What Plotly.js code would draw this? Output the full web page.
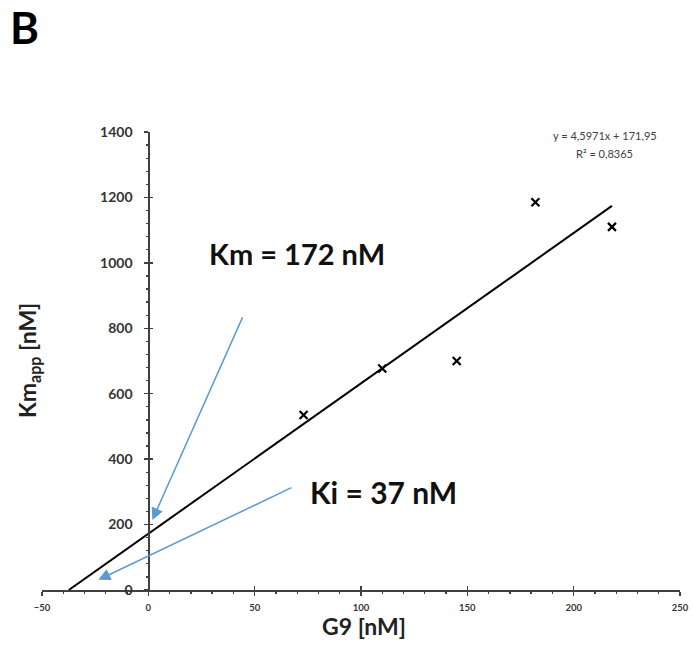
<!DOCTYPE html>
<html>
<head>
<meta charset="utf-8">
<script src="https://cdn.plot.ly/plotly-3.0.1.min.js"></script>
<style>html,body{margin:0;padding:0;background:#fff}</style>
</head>
<body>
<div id="chart" style="width:693px;height:653px"></div>
<script>
// Data
var g9 = [73, 110, 145, 182, 218];            // G9 [nM]
var kmApp = [535, 677, 700, 1185, 1110];       // Km_app [nM]
var trendX = [-37.4, 218];                     // linear trendline ends
var trendY = [0, 1174];
var xTickVals = [-50, 0, 50, 100, 150, 200, 250];
var yTickVals = [0, 200, 400, 600, 800, 1000, 1200, 1400];
var eqLine1 = 'y = 4,5971x + 171,95';
var eqLine2 = 'R² = 0,8365';
var kmLabel = '<b>Km = 172 nM</b>';
var kiLabel = '<b>Ki = 37 nM</b>';

var F = 'Lato, "Open Sans", sans-serif';
var axisCol = '#404040';
var arrowCol = '#5b9bd5';

var traces = [
  {x: trendX, y: trendY, mode: 'lines', line: {color: '#000', width: 2}, hoverinfo: 'skip', showlegend: false},
  {x: g9, y: kmApp, mode: 'markers', showlegend: false,
   marker: {symbol: 'x-thin', size: 8, color: '#000', line: {color: '#000', width: 2.2}}},
  {x: [], y: [], xaxis: 'x2', yaxis: 'y2', showlegend: false}
];

var xPos = (0 - (-50)) / 300;

var layout = {
  width: 693, height: 653,
  margin: {l: 42, r: 13, t: 132, b: 63},
  paper_bgcolor: '#fff', plot_bgcolor: '#fff',
  font: {family: F, color: '#222'},
  showlegend: false,
  xaxis: {
    range: [-50, 250], tickmode: 'array', tickvals: xTickVals,
    showgrid: false, zeroline: false, showline: true, linecolor: axisCol, linewidth: 1.5,
    ticks: 'outside', ticklen: 4, tickwidth: 1.3, tickcolor: axisCol,
    minor: {dtick: 10, ticks: 'outside', ticklen: 2.5, tickwidth: 1.3, tickcolor: axisCol},
    tickfont: {family: F, size: 9.5, color: '#333', weight: 'bold'},
    ticklabelstandoff: 4,
    anchor: 'y', fixedrange: true
  },
  yaxis: {
    range: [0, 1400], tickmode: 'array', tickvals: yTickVals,
    showgrid: false, zeroline: false, showline: true, linecolor: axisCol, linewidth: 1.5,
    ticks: 'outside', ticklen: 4, tickwidth: 1.3, tickcolor: axisCol,
    minor: {dtick: 40, ticks: 'outside', ticklen: 2.5, tickwidth: 1.3, tickcolor: axisCol},
    tickfont: {family: F, size: 14, color: '#333', weight: 'bold'},
    ticklabelstandoff: 9,
    anchor: 'free', position: xPos, fixedrange: true
  },
  xaxis2: {
    range: [-50, 250], overlaying: 'x', anchor: 'y2', tickmode: 'array', tickvals: xTickVals,
    showgrid: false, zeroline: false, showline: false, showticklabels: false,
    ticks: 'inside', ticklen: 4, tickwidth: 1.3, tickcolor: axisCol, side: 'bottom', fixedrange: true
  },
  yaxis2: {
    range: [0, 1400], overlaying: 'y', anchor: 'free', position: xPos, tickmode: 'array', tickvals: yTickVals,
    showgrid: false, zeroline: false, showline: false, showticklabels: false,
    ticks: 'inside', ticklen: 4, tickwidth: 1.3, tickcolor: axisCol, side: 'left', fixedrange: true
  },
  annotations: [
    {xref: 'paper', yref: 'paper', x: -0.027, y: 1.229, xanchor: 'center', yanchor: 'middle',
     text: '<b>B</b>', showarrow: false, font: {family: F, size: 44, color: '#000'}},
    {xref: 'paper', yref: 'paper', x: -0.022, y: 0.502, xanchor: 'center', yanchor: 'middle',
     text: '<b>Km<sub>app</sub> [nM]</b>', textangle: -90, showarrow: false,
     font: {family: F, size: 23, color: '#222'}},
    {xref: 'paper', yref: 'paper', x: 0.505, y: -0.0786, xanchor: 'center', yanchor: 'middle',
     text: '<b>G9 [nM]</b>', showarrow: false, font: {family: F, size: 23, color: '#222'}},
    {xref: 'x', yref: 'y', x: 214.7, y: 1388, xanchor: 'center', yanchor: 'middle',
     text: eqLine1, showarrow: false, font: {family: F, size: 11, color: '#404040'}},
    {xref: 'x', yref: 'y', x: 214.7, y: 1333, xanchor: 'center', yanchor: 'middle',
     text: eqLine2, showarrow: false, font: {family: F, size: 11, color: '#404040'}},
    {xref: 'x', yref: 'y', x: 70, y: 1028, xanchor: 'center', yanchor: 'middle',
     text: kmLabel, showarrow: false, font: {family: F, size: 29, color: '#111'}},
    {xref: 'x', yref: 'y', x: 110.6, y: 300, xanchor: 'center', yanchor: 'middle',
     text: kiLabel, showarrow: false, font: {family: F, size: 30, color: '#111'}},
    {xref: 'x', yref: 'y', axref: 'x', ayref: 'y', x: 1.9, y: 214, ax: 44.6, ay: 838,
     text: '', showarrow: true, arrowhead: 2, arrowsize: 1.6, arrowwidth: 1.5, arrowcolor: arrowCol, standoff: 0},
    {xref: 'x', yref: 'y', axref: 'x', ayref: 'y', x: -23.5, y: 31, ax: 68, ay: 315,
     text: '', showarrow: true, arrowhead: 2, arrowsize: 1.6, arrowwidth: 1.5, arrowcolor: arrowCol, standoff: 0}
  ]
};

Plotly.newPlot('chart', traces, layout, {displayModeBar: false, staticPlot: true});
</script>
</body>
</html>
